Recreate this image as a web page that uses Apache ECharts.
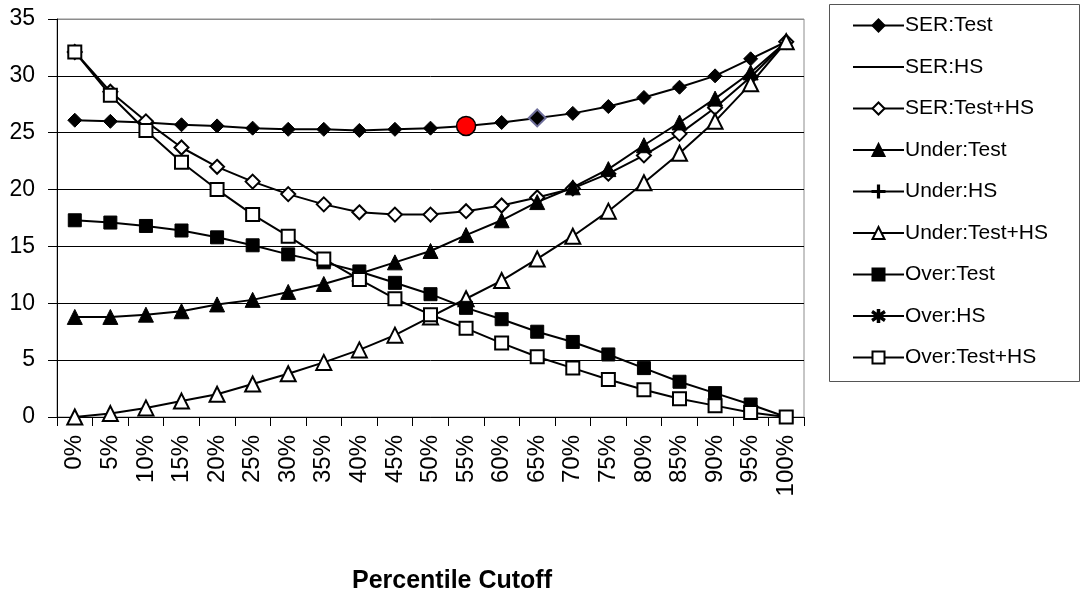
<!DOCTYPE html>
<html>
<head>
<meta charset="utf-8">
<script src="https://cdn.jsdelivr.net/npm/echarts@6/dist/echarts.min.js"></script>
<style>
html,body{margin:0;padding:0;background:#fff;}
#chart{width:1081px;height:593px;}
</style>
</head>
<body>
<div id="chart"></div>
<script>
// ---- data ----
const categories = ['0%','5%','10%','15%','20%','25%','30%','35%','40%','45%','50%','55%','60%','65%','70%','75%','80%','85%','90%','95%','100%'];
const yTicks = [0, 5, 10, 15, 20, 25, 30, 35];
const serTest     = [26.1, 26.0, 25.9, 25.7, 25.6, 25.4, 25.3, 25.3, 25.2, 25.3, 25.4, 25.6, 25.9, 26.3, 26.7, 27.3, 28.1, 29.0, 30.0, 31.5, 33.0];
const serHS       = [];
const serTestHS   = [32.1, 28.6, 26.0, 23.7, 22.0, 20.7, 19.6, 18.7, 18.0, 17.8, 17.8, 18.1, 18.6, 19.3, 20.1, 21.4, 23.0, 24.9, 27.2, 29.9, 33.0];
const underTest   = [8.8, 8.8, 9.0, 9.3, 9.9, 10.3, 11.0, 11.7, 12.6, 13.6, 14.6, 16.0, 17.3, 18.9, 20.2, 21.8, 23.9, 25.9, 28.0, 30.3, 33.0];
const underHS     = [];
const underTestHS = [0.0, 0.3, 0.8, 1.4, 2.0, 2.9, 3.8, 4.8, 5.9, 7.2, 8.8, 10.4, 12.0, 13.9, 15.9, 18.1, 20.6, 23.2, 26.0, 29.3, 33.0];
const overTest    = [17.3, 17.1, 16.8, 16.4, 15.8, 15.1, 14.3, 13.6, 12.8, 11.8, 10.8, 9.6, 8.6, 7.5, 6.6, 5.5, 4.3, 3.1, 2.1, 1.1, 0.0];
const overHS      = [];
const overTestHS  = [32.1, 28.3, 25.2, 22.4, 20.0, 17.8, 15.9, 13.9, 12.1, 10.4, 9.0, 7.8, 6.5, 5.3, 4.3, 3.3, 2.4, 1.6, 1.0, 0.4, 0.0];
const xTitle = 'Percentile Cutoff';

// ---- styling / construction ----
const plusPath = 'path://M4.5,0 L5.5,0 L5.5,10 L4.5,10 Z M0,4.5 L10,4.5 L10,5.5 L0,5.5 Z';
const starPath = 'path://M4.4,0 L5.6,0 L5.6,10 L4.4,10 Z M0.3,2.2 L0.9,1.2 L9.7,7.8 L9.1,8.8 Z M0.3,7.8 L9.1,1.2 L9.7,2.2 L0.9,8.8 Z';

function mkSeries(name, data, symbol, size, fill) {
  const hidden = symbol === 'none';
  return {
    name: name, type: 'line', data: data,
    symbol: hidden ? 'circle' : symbol, symbolSize: size,
    lineStyle: {color: '#000', width: 2},
    itemStyle: hidden
      ? {color: 'rgba(0,0,0,0)', borderColor: 'rgba(0,0,0,0)', borderWidth: 0}
      : {color: fill, borderColor: '#000', borderWidth: fill === '#fff' ? 2 : 1},
    emphasis: {disabled: true},
    z: 3
  };
}

const serTestData = serTest.map(function (v, i) {
  if (i === 11) return {value: v, symbol: 'circle', symbolSize: 19, itemStyle: {color: '#ff0000', borderColor: '#000', borderWidth: 1.5}};
  if (i === 13) return {value: v, symbolSize: 17, itemStyle: {color: '#000', borderColor: '#6e6e9a', borderWidth: 2}};
  return v;
});

const series = [
  mkSeries('SER:Test', serTestData, 'diamond', 14, '#000'),
  mkSeries('SER:HS', serHS, 'none', 10, '#000'),
  mkSeries('SER:Test+HS', serTestHS, 'diamond', 14, '#fff'),
  mkSeries('Under:Test', underTest, 'triangle', 15, '#000'),
  mkSeries('Under:HS', underHS, plusPath, 12, '#000'),
  mkSeries('Under:Test+HS', underTestHS, 'triangle', 15, '#fff'),
  mkSeries('Over:Test', overTest, 'rect', 13, '#000'),
  mkSeries('Over:HS', overHS, starPath, 12, '#000'),
  mkSeries('Over:Test+HS', overTestHS, 'rect', 13, '#fff')
];

const splitColors = yTicks.map(function (t) { return t === 35 ? '#8c8c8c' : '#000'; });
const FONT = 'Liberation Sans, Arial, sans-serif';

const chart = echarts.init(document.getElementById('chart'), null, {renderer: 'canvas'});
chart.setOption({
  animation: false,
  backgroundColor: '#fff',
  textStyle: {fontFamily: FONT, color: '#000'},
  title: {
    text: xTitle, left: 447, top: 564, textAlign: 'center',
    textStyle: {fontSize: 25, fontWeight: 'bold', color: '#000', fontFamily: FONT}
  },
  grid: {left: 57, right: 277, top: 19, bottom: 176, show: true, borderColor: '#8c8c8c', borderWidth: 1, backgroundColor: 'transparent', containLabel: false},
  legend: {
    orient: 'vertical', left: 852, top: 15,
    itemWidth: 51, itemHeight: 15, itemGap: 20.5,
    padding: 0,
    textStyle: {fontSize: 21, lineHeight: 21, color: '#000', fontFamily: FONT, padding: [0,0,0,-4]},
    selectedMode: false,
    data: series.map(function (s) { return s.name; })
  },
  graphic: [{
    type: 'rect', shape: {x: 829.5, y: 4.5, width: 250, height: 377},
    style: {fill: 'none', stroke: '#555', lineWidth: 1}, z: 0
  }],
  xAxis: {
    type: 'category', data: categories, boundaryGap: true,
    axisLine: {lineStyle: {color: '#000', width: 1}},
    axisTick: {show: true, length: 9, interval: 0, lineStyle: {color: '#000'}},
    axisLabel: {rotate: 90, interval: 0, fontSize: 24, color: '#000', margin: 18, fontFamily: FONT},
    splitLine: {show: false}
  },
  yAxis: {
    type: 'value', min: 0, max: 35, interval: 5,
    axisLine: {show: true, lineStyle: {color: '#000', width: 1}},
    axisTick: {show: true, length: 9, lineStyle: {color: '#000'}},
    axisLabel: {fontSize: 23, color: '#000', margin: 22, fontFamily: FONT},
    splitLine: {show: true, lineStyle: {color: splitColors, width: 1}}
  },
  series: series
});
</script>
</body>
</html>
